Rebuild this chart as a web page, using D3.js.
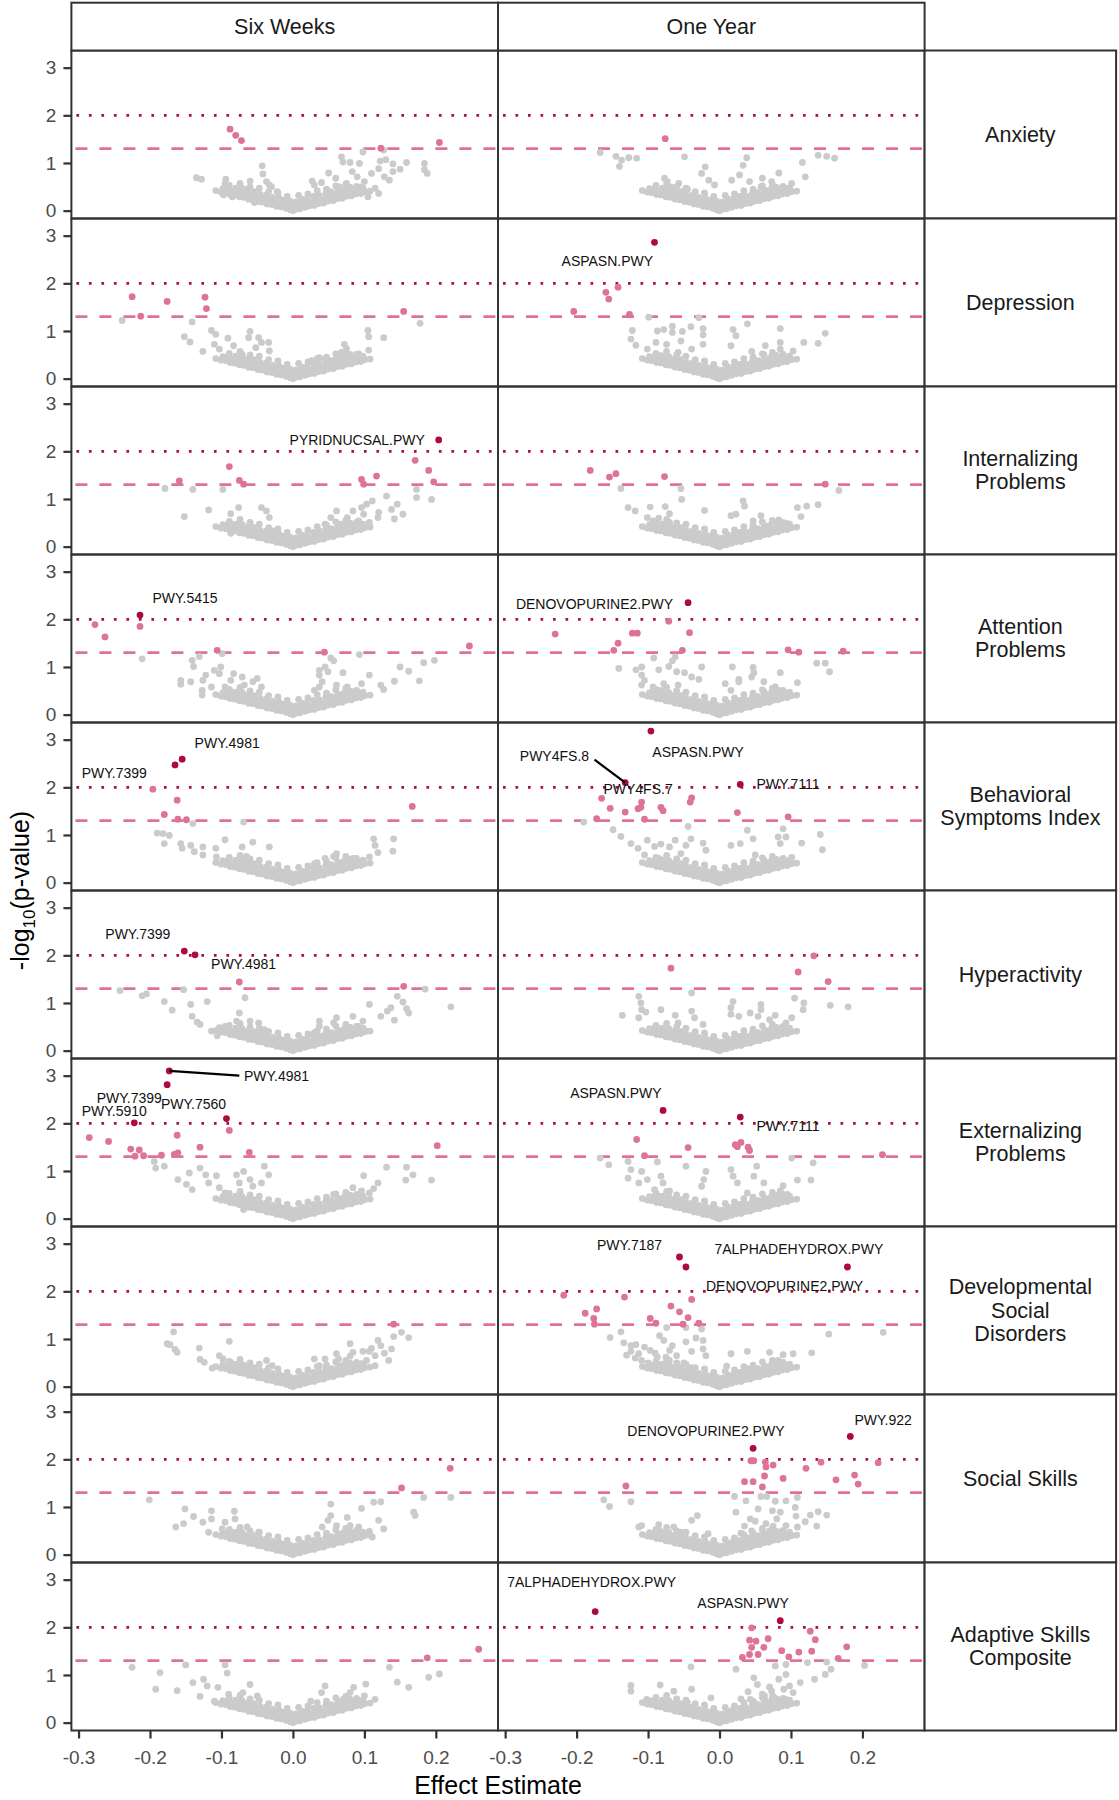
<!DOCTYPE html>
<html><head><meta charset="utf-8">
<script src="https://cdn.jsdelivr.net/npm/d3@7/dist/d3.min.js"></script>
<style>body{margin:0;background:#fff} svg text{font-family:"Liberation Sans",Arial,sans-serif}</style>
</head><body><svg id="chart" width="1119" height="1800"></svg>
<script>
const timepoints = ["Six Weeks", "One Year"];
const outcomes = [["Anxiety"],["Depression"],["Internalizing","Problems"],["Attention","Problems"],["Behavioral","Symptoms Index"],["Hyperactivity"],["Externalizing","Problems"],["Developmental","Social","Disorders"],["Social Skills"],["Adaptive Skills","Composite"]];
const xTicks = [-0.3,-0.2,-0.1,0.0,0.1,0.2];
const yTicks = [0,1,2,3];
const pThresholds = [1.30103, 2];

// dense overlapping mass of near-null pathways (drawn in every panel)
const nullCore = [
[0.000,0.00],[0.001,0.08],[-0.001,0.13],
[-0.004,0.02],[-0.010,0.05],[-0.017,0.08],[-0.023,0.09],[-0.030,0.13],[-0.036,0.14],[-0.043,0.18],[-0.049,0.19],[-0.056,0.23],[-0.062,0.24],[-0.069,0.28],[-0.075,0.29],[-0.082,0.33],[-0.088,0.34],[-0.095,0.38],[-0.101,0.39],[-0.108,0.42],
[-0.007,0.11],[-0.013,0.15],[-0.020,0.16],[-0.026,0.20],[-0.033,0.21],[-0.039,0.25],[-0.046,0.26],[-0.052,0.30],[-0.059,0.31],[-0.065,0.35],[-0.072,0.36],[-0.078,0.40],[-0.085,0.41],[-0.091,0.45],[-0.098,0.46],
[-0.004,0.20],[-0.012,0.22],[-0.020,0.27],[-0.029,0.28],[-0.037,0.33],[-0.046,0.34],[-0.054,0.40],[-0.063,0.41],[-0.071,0.46],[-0.080,0.47],[-0.089,0.53],
[-0.008,0.30],[-0.021,0.37],[-0.034,0.40],[-0.047,0.47],[-0.060,0.50],[-0.074,0.57],
[0.004,0.03],[0.010,0.04],[0.017,0.07],[0.023,0.10],[0.030,0.11],[0.036,0.15],[0.043,0.16],[0.049,0.20],[0.056,0.21],[0.062,0.25],[0.069,0.26],[0.075,0.30],[0.082,0.31],[0.088,0.35],[0.095,0.36],[0.101,0.40],[0.108,0.41],
[0.007,0.12],[0.013,0.13],[0.020,0.17],[0.026,0.18],[0.033,0.22],[0.039,0.23],[0.046,0.27],[0.052,0.28],[0.059,0.32],[0.065,0.33],[0.072,0.37],[0.078,0.38],[0.085,0.42],[0.091,0.43],[0.098,0.47],
[0.004,0.18],[0.012,0.24],[0.020,0.25],[0.029,0.30],[0.037,0.31],[0.046,0.36],[0.054,0.38],[0.063,0.43],[0.071,0.44],[0.080,0.49],[0.089,0.51],
[0.008,0.32],[0.021,0.35],[0.034,0.42],[0.047,0.45],[0.060,0.52],[0.074,0.55]
];

const anxiety6w = [[-0.088,1.71],[-0.080,1.58],[-0.072,1.47],[0.123,1.31],[0.205,1.43],
[-0.135,0.69],[-0.128,0.66],[-0.094,0.66],[-0.095,0.57],[-0.097,0.33],[-0.096,0.45],[-0.085,0.29],[-0.082,0.40],[-0.075,0.36],[-0.067,0.45],[-0.065,0.33],[-0.060,0.62],[-0.052,0.38],[-0.054,0.17],[-0.043,0.94],[-0.042,0.77],[-0.037,0.61],[-0.033,0.54],[-0.030,0.50],[-0.022,0.40],
[0.027,0.62],[0.040,0.59],[0.050,0.79],[0.060,0.68],[0.068,1.13],[0.070,1.02],[0.080,1.01],[0.083,0.82],[0.093,0.99],[0.098,1.23],[0.090,0.71],[0.100,0.61],[0.110,0.78],[0.122,1.04],[0.127,1.27],[0.130,1.07],[0.120,0.88],[0.128,0.71],[0.135,0.64],[0.140,0.98],[0.140,0.82],[0.150,0.87],[0.159,1.01],[0.184,0.99],[0.184,0.86],[0.188,0.78],[0.105,0.29],[0.115,0.47],[0.120,0.36],[0.090,0.40],[0.065,0.50],[0.053,0.40],[0.035,0.33],[0.075,0.57],[0.095,0.50],[0.030,0.54]];
const anxiety1y = [[-0.076,1.51],
[-0.167,1.22],[-0.145,1.14],[-0.137,1.06],[-0.127,1.11],[-0.116,1.10],[-0.140,0.93],[-0.049,1.13],[0.038,1.11],[0.033,0.95],[-0.020,0.92],[0.116,1.01],[0.138,1.16],[0.150,1.14],[0.161,1.10],[0.120,0.71],[0.083,0.79],[0.101,0.57],[0.093,0.47],[-0.077,0.68],[-0.073,0.61],[-0.079,0.43],[-0.057,0.57],[-0.025,0.78],[-0.015,0.64],[-0.007,0.54],[0.017,0.64],[0.028,0.75],[0.042,0.61],[0.060,0.68],[0.073,0.61],[0.058,0.50],[0.077,0.43],[-0.068,0.50],[-0.045,0.45],[0.066,0.38]];
const depression6w = [[-0.225,1.72],[-0.176,1.62],[-0.123,1.71],[-0.121,1.47],[-0.213,1.31],[0.155,1.41],
[-0.239,1.22],[-0.141,1.19],[0.178,1.16],[-0.152,0.88],[-0.144,0.77],[-0.126,0.57],[-0.114,1.01],[-0.108,0.93],[-0.110,0.72],[-0.103,0.62],[-0.091,0.85],[-0.083,0.69],[-0.060,0.99],[-0.062,0.86],[-0.071,0.51],[-0.048,0.86],[-0.044,0.76],[-0.034,0.76],[-0.033,0.58],[-0.052,0.65],[-0.095,0.44],[-0.085,0.38],
[0.105,1.01],[0.106,0.88],[0.127,0.86],[0.106,0.60],[0.072,0.72],[0.075,0.63],[0.080,0.51],[0.088,0.41],[0.061,0.46],[0.053,0.31],[0.037,0.44],[0.026,0.38],[0.045,0.40],[0.068,0.55],[0.092,0.52]];
const depression1y = [[-0.091,2.86],
[-0.142,1.92],[-0.159,1.81],[-0.155,1.67],[-0.204,1.41],[-0.126,1.35],
[-0.099,1.29],[-0.029,1.28],[0.039,1.15],[0.085,1.05],[0.148,0.95],[0.138,0.74],[0.118,0.76],[0.103,0.58],[0.085,0.76],[0.085,0.62],[0.064,0.69],[0.062,0.51],[0.089,0.36],[0.076,0.36],[0.045,0.57],[0.019,1.03],[0.023,0.90],[0.016,0.69],[-0.023,1.05],[-0.023,0.92],[-0.023,0.72],[-0.040,1.09],[-0.052,0.99],[-0.066,1.10],[-0.066,0.97],[-0.078,1.03],[-0.087,1.00],[-0.122,1.01],[-0.124,0.83],[-0.117,0.70],[-0.101,0.62],[-0.089,0.76],[-0.074,0.72],[-0.054,0.79],[-0.039,0.62],[-0.058,0.55],[-0.082,0.48]];
const internalizing6w = [[0.204,2.24],
[0.171,1.81],[0.190,1.60],[0.197,1.36],[0.117,1.48],[0.096,1.41],[0.099,1.31],[-0.089,1.68],[-0.075,1.39],[-0.069,1.31],[-0.159,1.38],
[-0.179,1.22],[-0.140,1.20],[-0.098,1.20],[-0.152,0.63],[-0.118,0.77],[-0.087,0.69],[-0.076,0.82],[-0.087,0.47],[-0.087,0.28],[-0.060,0.51],[-0.056,0.40],[-0.044,0.82],[-0.037,0.75],[-0.033,0.61],[-0.029,0.33],
[0.173,1.20],[0.194,0.99],[0.173,1.03],[0.131,1.06],[0.146,0.89],[0.138,0.78],[0.154,0.68],[0.142,0.58],[0.111,0.96],[0.103,0.89],[0.096,0.82],[0.099,0.68],[0.084,0.75],[0.076,0.61],[0.061,0.75],[0.053,0.61],[0.068,0.47],[0.092,0.54],[0.119,0.61],[0.107,0.51],[0.045,0.47],[0.037,0.33],[0.120,0.72],[0.085,0.40]];
const internalizing1y = [[-0.181,1.60],[-0.154,1.46],[-0.145,1.53],[-0.077,1.47],[0.148,1.31],
[-0.138,1.22],[-0.054,1.22],[-0.053,0.99],[0.167,1.18],[0.138,0.88],[0.122,0.85],[0.109,0.82],[0.114,0.63],[0.083,0.56],[0.058,0.65],[0.033,0.96],[0.035,0.85],[0.016,0.65],[-0.021,0.76],[-0.070,0.69],[-0.076,0.84],[-0.097,0.83],[-0.101,0.61],[-0.128,0.82],[-0.118,0.75],[-0.093,0.54],[-0.070,0.51],[0.023,0.68],[0.047,0.54],[0.070,0.44],[-0.085,0.60],[0.095,0.48]];
const attention6w = [[-0.214,2.09],
[-0.277,1.89],[-0.263,1.63],[-0.214,1.85],[-0.106,1.35],[0.044,1.31],[0.247,1.44],
[-0.211,1.17],[-0.141,1.14],[-0.131,1.22],[-0.139,1.01],[-0.157,0.72],[-0.157,0.64],[-0.143,0.69],[-0.126,0.72],[-0.122,0.83],[-0.110,0.93],[-0.101,1.00],[-0.103,0.86],[-0.099,1.28],[-0.127,0.51],[-0.127,0.41],[-0.114,0.58],[-0.095,0.58],[-0.087,0.72],[-0.083,0.86],[-0.071,0.79],[-0.068,0.62],[-0.056,0.69],[-0.050,0.76],[-0.044,0.58],[-0.087,0.48],[-0.095,0.38],
[0.093,1.26],[0.053,1.19],[0.057,1.13],[0.045,1.00],[0.037,0.93],[0.049,0.90],[0.070,0.88],[0.037,0.83],[0.041,0.69],[0.037,0.58],[0.061,0.62],[0.076,0.58],[0.096,0.65],[0.107,0.83],[0.123,0.62],[0.127,0.53],[0.142,0.70],[0.150,1.00],[0.162,0.91],[0.177,0.71],[0.183,1.09],[0.198,1.14],[0.030,0.51],[0.084,0.48],[0.068,0.41],[0.057,0.34]];
const attention1y = [[-0.044,2.35],
[-0.071,1.96],[-0.230,1.69],[-0.122,1.71],[-0.115,1.71],[-0.042,1.72],[-0.142,1.50],[-0.148,1.35],[-0.052,1.35],[0.096,1.36],[0.111,1.31],[0.173,1.33],
[-0.092,1.19],[-0.062,1.21],[-0.066,1.13],[-0.141,0.97],[-0.117,0.94],[-0.109,1.00],[-0.085,0.94],[-0.071,1.01],[-0.060,0.90],[-0.049,0.88],[-0.025,1.00],[-0.039,0.79],[-0.029,0.74],[-0.109,0.83],[-0.105,0.72],[-0.109,0.62],[-0.093,0.58],[-0.078,0.65],[-0.082,0.51],[-0.058,0.62],
[0.018,1.00],[0.047,0.99],[0.048,0.88],[0.027,0.74],[0.027,0.69],[0.045,0.79],[0.085,0.88],[0.109,0.67],[0.136,1.08],[0.148,1.08],[0.154,0.90],[0.062,0.69],[0.078,0.58],[0.083,0.51],[0.062,0.48],[0.085,0.34],[0.070,0.27],[0.008,0.65],[0.016,0.51]];
const bsi6w = [[-0.155,2.59],[-0.165,2.47],
[-0.196,1.96],[-0.162,1.73],[-0.180,1.43],[-0.161,1.33],[-0.149,1.32],[0.167,1.60],
[-0.140,1.24],[-0.069,1.27],[-0.190,1.04],[-0.182,1.03],[-0.173,0.99],[-0.180,0.82],[-0.157,0.82],[-0.155,0.72],[-0.143,0.78],[-0.138,0.65],[-0.126,0.75],[-0.126,0.58],[-0.108,0.72],[-0.107,0.54],[-0.095,0.90],[-0.071,0.75],[-0.056,0.85],[-0.033,0.75],[-0.087,0.44],
[0.141,0.92],[0.113,0.92],[0.115,0.78],[0.140,0.66],[0.119,0.63],[0.107,0.54],[0.096,0.44],[0.084,0.51],[0.061,0.61],[0.057,0.55],[0.076,0.37],[0.045,0.51],[0.030,0.40],[-0.065,0.55]];
const bsi1y = [[-0.096,3.18],[-0.132,2.10],[0.029,2.06],
[-0.165,1.77],[-0.153,1.56],[-0.132,1.48],[-0.114,1.55],[-0.110,1.58],[-0.109,1.69],[-0.082,1.58],[-0.079,1.51],[-0.105,1.33],[-0.172,1.34],[-0.039,1.78],[-0.041,1.69],[0.025,1.47],[0.096,1.38],
[-0.190,1.27],[-0.044,1.18],[-0.149,1.11],[-0.138,0.97],[-0.124,0.82],[-0.114,0.72],[-0.101,0.89],[-0.091,0.76],[-0.082,0.81],[-0.070,0.75],[-0.062,0.89],[-0.040,0.92],[-0.047,0.78],[-0.023,0.83],[-0.019,0.68],[0.039,1.10],[0.047,0.92],[0.029,0.82],[0.016,0.78],[0.089,1.13],[0.093,0.96],[0.082,0.96],[0.085,0.82],[0.115,0.83],[0.141,1.01],[0.144,0.69],[0.101,0.53],[0.092,0.44],[0.078,0.37],[0.050,0.58],[0.062,0.47],[-0.105,0.58],[-0.085,0.51],[-0.054,0.61]];
const hyper6w = [[-0.152,2.09],[-0.137,2.01],
[-0.075,1.44],[0.155,1.35],
[-0.242,1.26],[-0.211,1.15],[-0.205,1.19],[-0.180,1.03],[-0.153,1.28],[-0.169,0.85],[-0.143,0.97],[-0.120,1.03],[-0.067,1.11],[-0.141,0.72],[-0.134,0.60],[-0.130,0.55],[-0.114,0.41],[-0.103,0.48],[-0.095,0.51],[-0.075,0.79],[-0.079,0.62],[-0.060,0.62],[-0.048,0.58],[-0.040,0.44],[-0.106,0.31],
[0.185,1.29],[0.221,0.92],[0.146,1.14],[0.154,1.02],[0.159,0.88],[0.162,0.79],[0.107,0.97],[0.137,0.90],[0.132,0.83],[0.123,0.72],[0.142,0.64],[0.084,0.72],[0.098,0.62],[0.092,0.51],[0.061,0.69],[0.057,0.58],[0.037,0.62],[0.037,0.51],[0.076,0.44],[0.103,0.41],[0.030,0.38],[0.045,0.31]];
const hyper1y = [[0.132,1.99],[-0.068,1.73],[0.110,1.65],[0.152,1.45],
[-0.039,1.21],[-0.113,1.14],[-0.110,1.00],[-0.136,0.74],[-0.109,0.86],[-0.103,0.81],[-0.113,0.69],[-0.082,0.86],[-0.089,0.51],[-0.062,0.74],[-0.058,0.58],[-0.039,0.83],[-0.035,0.69],[-0.023,0.55],[0.019,1.03],[0.016,0.90],[0.016,0.76],[0.027,0.72],[0.043,0.79],[0.058,0.97],[0.058,0.86],[0.054,0.72],[0.070,0.65],[0.078,0.74],[0.093,0.58],[0.101,0.69],[0.105,1.10],[0.118,1.00],[0.117,0.86],[0.155,0.95],[0.180,0.92],[0.085,0.44],[0.070,0.38],[-0.070,0.41]];
const extern6w = [[-0.173,3.10],[-0.176,2.81],[-0.222,2.01],[-0.093,2.10],
[-0.285,1.70],[-0.258,1.62],[-0.227,1.46],[-0.215,1.44],[-0.221,1.31],[-0.209,1.32],[-0.184,1.33],[-0.166,1.35],[-0.161,1.38],[-0.162,1.75],[-0.130,1.50],[-0.089,1.85],[-0.061,1.39],[0.202,1.53],
[-0.194,1.20],[-0.192,1.06],[-0.180,1.10],[-0.161,0.82],[-0.145,0.96],[-0.149,0.72],[-0.141,0.61],[-0.130,1.06],[-0.122,0.92],[-0.118,0.75],[-0.107,0.90],[-0.103,0.65],[-0.095,0.54],[-0.079,0.92],[-0.075,0.75],[-0.069,0.99],[-0.060,0.82],[-0.056,0.68],[-0.040,1.10],[-0.034,0.92],[-0.044,0.75],[-0.069,0.19],
[0.131,1.08],[0.159,1.08],[0.168,0.92],[0.158,0.81],[0.194,0.81],[0.099,0.90],[0.119,0.75],[0.113,0.63],[0.107,0.54],[0.096,0.58],[0.084,0.65],[0.076,0.51],[0.057,0.51],[0.053,0.37],[0.068,0.37],[0.045,0.23]];
const extern1y = [[-0.079,2.27],[0.029,2.13],
[-0.116,1.66],[-0.044,1.49],[0.022,1.55],[0.025,1.51],[0.030,1.60],[0.040,1.50],[0.042,1.43],[-0.105,1.32],[0.228,1.34],
[-0.167,1.27],[-0.155,1.13],[-0.128,1.20],[-0.124,1.03],[-0.109,0.99],[-0.087,1.19],[-0.128,0.85],[-0.113,0.75],[-0.101,0.82],[-0.082,0.89],[-0.079,0.75],[-0.091,0.61],[-0.070,0.58],[-0.047,1.10],[-0.019,0.99],[-0.022,0.82],[-0.025,0.68],[0.016,1.03],[0.019,0.89],[0.025,0.75],[0.052,1.10],[0.048,0.89],[0.062,0.75],[0.089,0.69],[0.101,1.27],[0.131,1.17],[0.109,0.81],[0.128,0.81],[0.095,0.51],[0.085,0.58],[0.074,0.44],[0.039,0.54],[0.058,0.37],[-0.085,0.47],[-0.062,0.40]];
const devsoc6w = [[0.141,1.31],
[-0.167,1.15],[-0.176,0.90],[-0.172,0.88],[-0.165,0.78],[-0.162,0.72],[-0.131,0.81],[-0.130,0.57],[-0.124,0.51],[-0.113,0.39],[-0.103,0.65],[-0.098,0.58],[-0.089,0.95],[-0.087,0.51],[-0.079,0.38],[-0.068,0.44],[-0.056,0.34],[-0.037,0.55],[-0.029,0.44],
[0.152,1.14],[0.162,1.03],[0.141,1.05],[0.119,0.97],[0.123,0.86],[0.138,0.79],[0.107,0.74],[0.098,0.74],[0.080,0.90],[0.084,0.72],[0.080,0.64],[0.134,0.55],[0.115,0.65],[0.103,0.55],[0.096,0.48],[0.061,0.69],[0.064,0.58],[0.068,0.44],[0.045,0.58],[0.030,0.58],[0.037,0.44],[0.053,0.31],[0.115,0.44],[0.092,0.38],[0.072,0.31],[0.110,0.80],[0.128,0.70]];
const devsoc1y = [[-0.056,2.72],[-0.047,2.51],[0.179,2.51],
[-0.218,1.92],[-0.133,1.88],[-0.039,1.83],[-0.068,1.69],[-0.172,1.63],[-0.188,1.54],[-0.176,1.43],[-0.175,1.31],[-0.097,1.43],[-0.089,1.33],[-0.056,1.57],[-0.044,1.45],[-0.051,1.31],[-0.029,1.33],
[-0.074,1.24],[-0.047,1.24],[-0.025,1.21],[-0.138,1.15],[-0.153,1.03],[-0.084,1.07],[-0.078,0.97],[-0.047,0.94],[-0.033,1.02],[-0.023,0.97],[-0.134,0.92],[-0.124,0.86],[-0.117,0.88],[-0.105,0.83],[-0.124,0.74],[-0.113,0.69],[-0.097,0.76],[-0.109,0.55],[-0.087,0.62],[-0.070,0.76],[-0.066,0.86],[-0.039,0.74],[-0.023,0.79],[-0.019,0.65],[0.010,0.43],[0.016,0.69],[0.039,0.74],[0.070,0.72],[0.089,0.67],[0.103,0.69],[0.129,0.71],[0.082,0.55],[0.080,0.36],[0.058,0.31],[0.039,0.38],[0.047,0.27],[0.153,1.10],[0.229,1.14],[0.019,0.17],
[-0.118,0.60],[-0.100,0.50],[-0.085,0.45],[-0.070,0.55],[-0.060,0.65],[-0.050,0.50],[-0.040,0.40],[-0.090,0.70],[-0.075,0.62],[-0.130,0.66]];
const socsk6w = [[0.220,1.81],[0.152,1.40],
[-0.201,1.15],[0.183,1.20],[0.221,1.20],[0.169,0.89],[0.171,0.82],[0.123,1.11],[0.113,1.10],[0.096,0.97],[0.120,0.72],[0.127,0.54],[0.107,0.49],[0.111,0.37],[0.076,0.78],[0.080,0.61],[0.092,0.58],[0.053,1.06],[0.053,0.82],[0.049,0.72],[0.061,0.61],[0.041,0.58],
[-0.151,0.96],[-0.139,0.80],[-0.153,0.65],[-0.164,0.58],[-0.126,0.68],[-0.114,0.92],[-0.114,0.75],[-0.082,0.91],[-0.081,0.75],[-0.095,0.68],[-0.099,0.54],[-0.087,0.47],[-0.064,0.58],[-0.048,0.47],[-0.118,0.47],[0.100,0.42],[0.070,0.45],[-0.070,0.40]];
const socsk1y = [[0.047,2.23],[0.183,2.48],
[0.044,1.97],[0.048,1.97],[0.064,1.94],[0.075,1.88],[0.065,1.84],[0.121,1.81],[0.142,1.94],[0.222,1.93],[0.063,1.65],[0.089,1.60],[0.035,1.53],[0.047,1.53],[0.060,1.42],[0.163,1.57],[0.189,1.67],[0.194,1.48],[-0.131,1.44],
[-0.162,1.15],[-0.154,1.01],[-0.124,1.11],[0.021,1.22],[0.037,1.13],[0.058,1.22],[0.066,1.22],[0.078,1.12],[0.093,1.13],[0.109,1.20],[0.106,0.99],[0.085,0.89],[0.074,0.92],[0.054,0.96],[0.023,0.89],[0.043,0.75],[0.107,0.81],[0.127,0.83],[0.138,0.90],[0.150,0.83],[0.136,0.60],[0.120,0.69],[0.109,0.58],[0.093,0.61],[0.085,0.47],[0.074,0.37],[0.062,0.30],[-0.109,0.61],[-0.113,0.58],[-0.085,0.63],[-0.084,0.51],[-0.064,0.58],[-0.054,0.47],[-0.039,0.72],[-0.031,0.82],[-0.016,0.44],[-0.070,0.33],
[0.020,0.30],[0.030,0.45],[0.035,0.60],[0.040,0.35],[0.045,0.50],[0.050,0.70],[0.055,0.40],[0.060,0.55],[0.065,0.65],[0.070,0.50],[0.075,0.60],[0.080,0.75],[0.028,0.20],[0.050,0.25],[0.060,0.35],[0.070,0.42]];
const adapt6w = [[0.260,1.54],[0.188,1.36],
[-0.225,1.16],[-0.186,1.05],[-0.150,1.21],[-0.192,0.70],[-0.162,0.67],[-0.140,0.84],[-0.125,0.91],[-0.120,0.77],[-0.095,1.21],[-0.092,1.04],[-0.105,0.74],[-0.090,0.60],[-0.060,0.80],[-0.070,0.63],[-0.050,0.56],
[0.135,1.16],[0.146,0.85],[0.162,0.74],[0.190,0.95],[0.205,1.02],[0.102,0.81],[0.085,0.74],[0.080,0.63],[0.070,0.49],[0.045,0.77],[0.040,0.63],[0.025,0.45],[0.115,0.49],[0.100,0.56],[0.050,0.35],[-0.130,0.55],[-0.110,0.45],[-0.080,0.45]];
const adapt1y = [[-0.174,2.33],[0.085,2.14],
[0.045,1.99],[0.042,1.73],[0.051,1.71],[0.068,1.76],[0.062,1.58],[0.045,1.58],[0.042,1.43],[0.054,1.43],[0.032,1.37],[0.087,1.51],[0.097,1.38],[0.111,1.48],[0.127,1.92],[0.134,1.74],[0.129,1.50],[0.178,1.59],[0.166,1.35],
[-0.124,0.78],[-0.124,0.66],[-0.102,0.49],[-0.095,0.45],[-0.083,0.79],[-0.064,0.66],[-0.040,1.17],[-0.039,0.70],[-0.045,0.42],[-0.012,0.52],[0.023,1.12],[0.048,0.94],[0.053,0.80],[0.078,1.19],[0.093,1.22],[0.123,1.26],[0.150,1.27],[0.156,1.12],[0.148,1.01],[0.203,1.20],[0.093,1.01],[0.083,0.91],[0.098,0.77],[0.113,0.84],[0.133,0.91],[0.073,0.66],[0.063,0.56],[0.103,0.63],[0.093,0.49],[0.043,0.49],
[0.020,0.30],[0.030,0.50],[0.040,0.65],[0.050,0.40],[0.060,0.60],[0.070,0.75],[0.080,0.50],[0.035,0.35],[0.055,0.30],[0.065,0.45],[0.075,0.55],[0.090,0.70],[0.085,0.35],[0.045,0.25]];

const panelSeries = [[anxiety6w,anxiety1y],[depression6w,depression1y],[internalizing6w,internalizing1y],[attention6w,attention1y],[bsi6w,bsi1y],[hyper6w,hyper1y],[extern6w,extern1y],[devsoc6w,devsoc1y],[socsk6w,socsk1y],[adapt6w,adapt1y]];

// pathway labels (row, column, text, label anchor in data units)
const pathwayLabels = [
 [1,1,"ASPASN.PWY",-0.157,2.46],
 [2,0,"PYRIDNUCSAL.PWY",0.090,2.23],
 [3,0,"PWY.5415",-0.151,2.44],
 [3,1,"DENOVOPURINE2.PWY",-0.175,2.32],
 [4,0,"PWY.4981",-0.092,2.94],
 [4,0,"PWY.7399",-0.250,2.31],
 [4,1,"ASPASN.PWY",-0.030,2.75],
 [4,1,"PWY4FS.8",-0.231,2.65],
 [4,1,"PWY4FS.7",-0.114,1.96],
 [4,1,"PWY.7111",0.096,2.07],
 [5,0,"PWY.7399",-0.217,2.44],
 [5,0,"PWY.4981",-0.069,1.81],
 [6,0,"PWY.4981",-0.023,2.99],
 [6,0,"PWY.7399",-0.229,2.53],
 [6,0,"PWY.7560",-0.139,2.40],
 [6,0,"PWY.5910",-0.250,2.26],
 [6,1,"ASPASN.PWY",-0.145,2.64],
 [6,1,"PWY.7111",0.096,1.94],
 [7,1,"PWY.7187",-0.126,2.97],
 [7,1,"7ALPHADEHYDROX.PWY",0.111,2.89],
 [7,1,"DENOVOPURINE2.PWY",0.091,2.11],
 [8,1,"DENOVOPURINE2.PWY",-0.019,2.60],
 [8,1,"PWY.922",0.229,2.83],
 [9,1,"7ALPHADEHYDROX.PWY",-0.179,2.95],
 [9,1,"ASPASN.PWY",0.033,2.50]
];
const labelSegments = [
 [4,1,-0.175,2.58,-0.132,2.10],
 [6,0,-0.173,3.10,-0.075,3.00]
];

// ---------- layout ----------
const plotLeft = 71.4, colW = 426.6, plotTop = 50.5, rowH = 168, stripW = 191.5, stripTop = 2.7;
const frame = "#333333", greyCol = "#CBCBCB", pinkCol = "#DD7399", redCol = "#AD0C3A";
const svg = d3.select("#chart");
const x = d3.scaleLinear().domain([-0.31, 0.287]).range([0, colW]);
const y = d3.scaleLinear().domain([-0.165, 3.36]).range([rowH, 0]);
const tier = v => v >= pThresholds[1] ? 2 : (v >= pThresholds[0] ? 1 : 0);
const fills = [greyCol, pinkCol, redCol];

svg.append("defs").append("clipPath").attr("id","pclip").append("rect").attr("width",colW).attr("height",rowH);

outcomes.forEach((lines, r) => {
  timepoints.forEach((tp, c) => {
    const g = svg.append("g").attr("transform", `translate(${plotLeft + c*colW},${plotTop + r*rowH})`);
    const inner = g.append("g").attr("clip-path","url(#pclip)");
    inner.append("line").attr("x1",0).attr("x2",colW).attr("y1",y(pThresholds[0])).attr("y2",y(pThresholds[0]))
      .attr("stroke",pinkCol).attr("stroke-width",2.7).attr("stroke-dasharray","12,12").attr("stroke-dashoffset",-4);
    inner.append("line").attr("x1",0).attr("x2",colW).attr("y1",y(pThresholds[1])).attr("y2",y(pThresholds[1]))
      .attr("stroke",redCol).attr("stroke-width",2.8).attr("stroke-dasharray","2.7,9.8").attr("stroke-dashoffset",-5);
    const pts = nullCore.concat(panelSeries[r][c]).map(d => ({x:d[0], y:d[1], t:tier(d[1])}));
    [0,1,2].forEach(t => {
      inner.selectAll(null).data(pts.filter(d => d.t === t)).join("circle")
        .attr("cx", d => x(d.x)).attr("cy", d => y(d.y)).attr("r", 3.4).attr("fill", fills[t]);
    });
    labelSegments.filter(s => s[0]===r && s[1]===c).forEach(s => {
      inner.append("line").attr("x1",x(s[2])).attr("y1",y(s[3])).attr("x2",x(s[4])).attr("y2",y(s[5]))
        .attr("stroke","#000").attr("stroke-width",2.2);
    });
    pathwayLabels.filter(l => l[0]===r && l[1]===c).forEach(l => {
      g.append("text").attr("x",x(l[3])).attr("y",y(l[4])).attr("text-anchor","middle")
        .attr("dominant-baseline","central").attr("font-size",14).attr("fill","#111").text(l[2]);
    });
    g.append("rect").attr("width",colW).attr("height",rowH).attr("fill","none").attr("stroke",frame).attr("stroke-width",2);
    if (c === 0) {
      const ax = g.append("g").call(d3.axisLeft(y).tickValues(yTicks).tickSize(8).tickPadding(7).tickFormat(d3.format("d")));
      ax.select(".domain").remove();
      ax.selectAll(".tick line").attr("stroke",frame).attr("stroke-width",2.2);
      ax.selectAll(".tick text").attr("fill","#4D4D4D").attr("font-size",19).style("font-family","'Liberation Sans',Arial,sans-serif");
    }
    if (r === outcomes.length - 1) {
      const ax = g.append("g").attr("transform",`translate(0,${rowH})`)
        .call(d3.axisBottom(x).tickValues(xTicks).tickSize(8).tickPadding(12).tickFormat(v => v.toFixed(1)));
      ax.select(".domain").remove();
      ax.selectAll(".tick line").attr("stroke",frame).attr("stroke-width",2.2);
      ax.selectAll(".tick text").attr("fill","#4D4D4D").attr("font-size",19).style("font-family","'Liberation Sans',Arial,sans-serif");
    }
  });
  // row strip
  const sg = svg.append("g").attr("transform",`translate(${plotLeft + 2*colW},${plotTop + r*rowH})`);
  sg.append("rect").attr("width",stripW).attr("height",rowH).attr("fill","#fff").attr("stroke",frame).attr("stroke-width",2);
  lines.forEach((ln, i) => {
    sg.append("text").attr("x",stripW/2).attr("y",rowH/2 + (i - (lines.length-1)/2)*23.5)
      .attr("text-anchor","middle").attr("dominant-baseline","central").attr("font-size",21.5).attr("fill","#1A1A1A").text(ln);
  });
});

// column strips
timepoints.forEach((tp, c) => {
  const sg = svg.append("g").attr("transform",`translate(${plotLeft + c*colW},${stripTop})`);
  sg.append("rect").attr("width",colW).attr("height",plotTop - stripTop).attr("fill","#fff").attr("stroke",frame).attr("stroke-width",2);
  sg.append("text").attr("x",colW/2).attr("y",(plotTop-stripTop)/2).attr("text-anchor","middle").attr("dominant-baseline","central")
    .attr("font-size",21.5).attr("fill","#1A1A1A").text(tp);
});

// axis titles
svg.append("text").attr("x", plotLeft + colW).attr("y", 1794).attr("text-anchor","middle").attr("font-size",25).attr("fill","#000").text("Effect Estimate");
const yt = svg.append("text").attr("transform",`translate(29,${plotTop + 5*rowH}) rotate(-90)`).attr("text-anchor","middle").attr("font-size",25).attr("fill","#000");
yt.append("tspan").text("-log");
yt.append("tspan").attr("font-size",17).attr("dy",6).text("10");
yt.append("tspan").attr("dy",-6).text("(p-value)");
</script></body></html>
